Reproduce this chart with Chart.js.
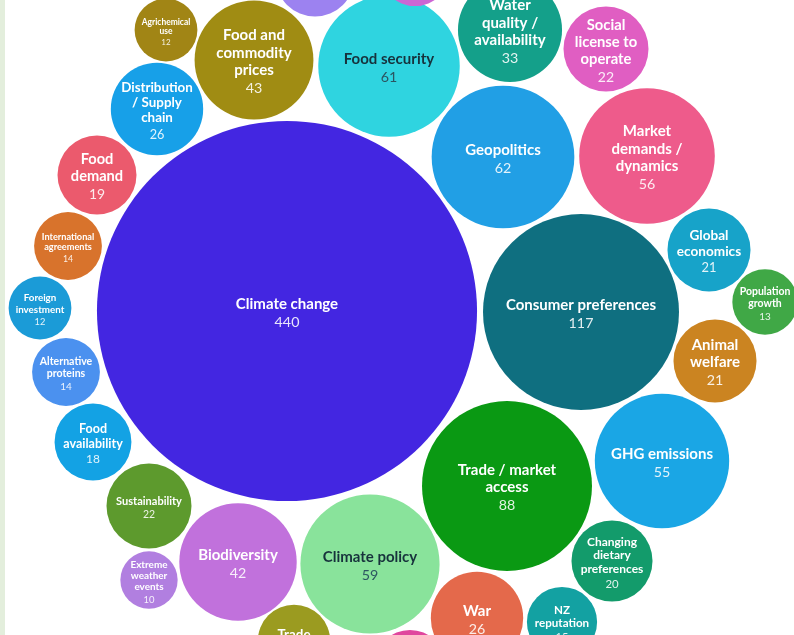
<!DOCTYPE html>
<html>
<head>
<meta charset="utf-8">
<script src="https://cdn.jsdelivr.net/npm/chart.js@4.4.1/dist/chart.umd.min.js"></script>
<style>
  html, body { margin: 0; padding: 0; background: #fff; }
  #wrap { position: relative; width: 794px; height: 635px; overflow: hidden; background: #fff; }
  #strip { position: absolute; left: 0; top: 0; width: 5px; height: 635px; background: #e3eedc; z-index: 2; }
</style>
</head>
<body>
<div id="wrap">
  <div id="strip"></div>
  <canvas id="myChart" width="794" height="635"></canvas>
</div>
<script>
// topics (label lines), number of mentions, and bubble layout position
const topics = [
    ['Climate change'], ['Consumer preferences'], ['Trade / market', 'access'], ['Geopolitics'],
    ['Food security'], ['Climate policy'], ['Market', 'demands /', 'dynamics'], ['GHG emissions'],
    ['Food and', 'commodity', 'prices'], ['Biodiversity'], ['Water', 'quality /', 'availability'],
    ['Distribution', '/ Supply', 'chain'], ['War'], ['Social', 'license to', 'operate'],
    ['Sustainability'], ['Animal', 'welfare'], ['Global', 'economics'],
    ['Changing', 'dietary', 'preferences'], ['Food', 'demand'], ['Food', 'availability'],
    ['NZ', 'reputation'], ['International', 'agreements'], ['Alternative', 'proteins'],
    ['Population', 'growth'], ['Agrichemical', 'use'], ['Foreign', 'investment'],
    ['Extreme', 'weather', 'events'], ['Trade'], ['Other'], ['Other'], ['Other']
];
const mentions = [440, 117, 88, 62, 61, 59, 56, 55, 43, 42, 33, 26, 26, 22, 22, 21, 21, 20, 19, 18,
    15, 14, 14, 13, 12, 12, 10, 16, 19, 15, 15];
const posX = [287, 581, 507, 503, 389, 370, 647, 662, 254, 238, 510, 157, 477, 606, 149, 715, 709,
    612, 97, 93, 562, 68, 66, 765, 166, 40, 149, 294, 315, 415, 410];
const posY = [311, 312, 486, 157, 66, 564, 156, 461, 60, 562, 30, 109, 618, 49, 506, 361, 250,
    561, 175, 442, 622, 246, 372, 302, 30, 308, 580, 641, -23, -29, 665];

const colors = ['#4326e1', '#0f6f80', '#0a9913', '#219fe5', '#2fd4e0', '#89e39b', '#ee5b8b',
    '#1aa6e5', '#a08c13', '#c171dc', '#14a08a', '#17a0e8', '#e4694b', '#e05ec2', '#5d9a2d',
    '#cb8421', '#17a3c9', '#139b6b', '#eb5a6d', '#13a2e4', '#13a1a2', '#d8732c', '#4b91ef',
    '#40a846', '#a18515', '#1b9bd7', '#b17fe0', '#9b9b20', '#9c82f0', '#cc66d4', '#e0469e'];
const darkText = ['Food security', 'Climate policy'];

const FONT = 'Lato, "Open Sans", sans-serif';
const SIZE_UNIT = 9.06; // bubble area proportional to mentions

const bubbleLabels = {
    id: 'bubbleLabels',
    afterDatasetsDraw(chart) {
        const ctx = chart.ctx;
        const meta = chart.getDatasetMeta(0);
        ctx.save();
        ctx.textAlign = 'center';
        ctx.textBaseline = 'middle';
        meta.data.forEach((pt, i) => {
            const r = pt.options.radius;
            const lines = topics[i];
            ctx.font = 'bold 10px ' + FONT;
            const widest = Math.max(...lines.map(l => ctx.measureText(l).width));
            let fs = Math.min(15, r * 0.37, 1.55 * r / widest * 10, 1.6 * r / ((lines.length + 1) * 1.15));
            const lh = fs * 1.15;
            let y = pt.y + 1.5 - (lines.length + 1) * lh / 2 + lh / 2;
            const dark = darkText.includes(lines.join(' '));
            ctx.fillStyle = dark ? '#17323c' : '#ffffff';
            ctx.font = 'bold ' + fs + 'px ' + FONT;
            lines.forEach(l => {
                ctx.fillText(l, pt.x, y);
                y += lh;
            });
            ctx.fillStyle = dark ? '#2c5561' : 'rgba(255,255,255,0.88)';
            ctx.font = (fs * 0.95) + 'px ' + FONT;
            ctx.fillText(String(mentions[i]), pt.x, y + 1);
        });
        ctx.restore();
    }
};

function drawChart() {
    const ctx = document.getElementById('myChart').getContext('2d');
    new Chart(ctx, {
        type: 'bubble',
        data: {
            labels: topics.map(t => t.join(' ')),
            datasets: [{
                label: 'Mentions',
                data: posX.map((x, i) => ({ x: x, y: posY[i], r: SIZE_UNIT * Math.sqrt(mentions[i]) })),
                backgroundColor: colors,
                borderWidth: 0,
                clip: false
            }]
        },
        options: {
            responsive: false,
            animation: false,
            layout: { padding: 0, autoPadding: false },
            plugins: {
                legend: { display: false },
                tooltip: { enabled: false }
            },
            scales: {
                x: { type: 'linear', min: 0, max: 794, display: false },
                y: { type: 'linear', min: 0, max: 635, reverse: true, display: false }
            }
        },
        plugins: [bubbleLabels]
    });
}

document.fonts.load('bold 10px Lato').then(drawChart, drawChart);
</script>
</body>
</html>
